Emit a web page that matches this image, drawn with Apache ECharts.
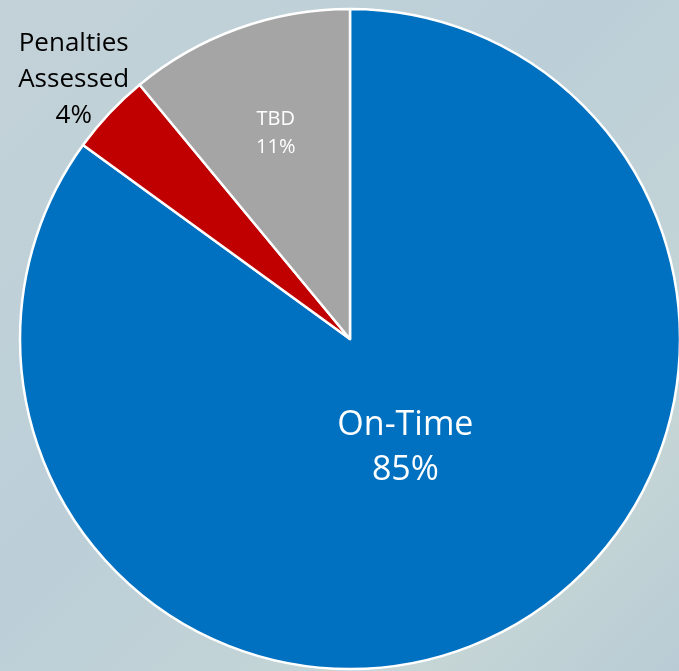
<!DOCTYPE html>
<html>
<head>
<meta charset="utf-8">
<script src="https://cdn.jsdelivr.net/npm/echarts@6/dist/echarts.min.js"></script>
<style>
  html, body { margin: 0; padding: 0; }
  #main { width: 679px; height: 671px; }
</style>
</head>
<body>
<div id="main"></div>
<script>
// slice order runs clockwise from 12 o'clock
var categories = ['On-Time', 'Penalties Assessed', 'TBD'];
var shares = [85, 4, 11];

var sliceColors = ['#0070C0', '#C00000', '#A5A5A5'];
var center = [350, 339];

var myChart = echarts.init(document.getElementById('main'));

function pieData() {
    return categories.map(function (name, i) {
        return { name: name, value: shares[i] };
    });
}

// transparent copy of the pie, only used to put one label at a given radius
function labelRing(idx, radius, style) {
    return {
        type: 'pie',
        silent: true,
        center: center,
        radius: radius,
        startAngle: 90,
        clockwise: true,
        z: 5,
        itemStyle: { color: 'transparent', borderWidth: 0 },
        labelLine: { show: false },
        emphasis: { disabled: true },
        label: { show: false },
        data: pieData().map(function (d, i) {
            if (i === idx) {
                d.label = Object.assign({
                    show: true,
                    position: 'inside',
                    fontFamily: 'Open Sans',
                    formatter: function (p) {
                        return p.name.replace(' ', '\n') + '\n' + p.value + '%';
                    }
                }, style);
            }
            return d;
        })
    };
}

var option = {
    animation: false,
    backgroundColor: new echarts.graphic.LinearGradient(0, 0, 1, 1, [
        { offset: 0, color: '#c3d2d8' },
        { offset: 0.45, color: '#bccfd8' },
        { offset: 0.8, color: '#c6d6d6' },
        { offset: 1, color: '#b9ccd5' }
    ]),
    series: [
        {
            type: 'pie',
            center: center,
            radius: 330,
            startAngle: 90,
            clockwise: true,
            label: { show: false },
            labelLine: { show: false },
            itemStyle: {
                borderColor: '#ffffff',
                borderWidth: 2.5
            },
            data: pieData().map(function (d, i) {
                d.itemStyle = { color: sliceColors[i] };
                return d;
            })
        },
        labelRing(0, [0, 238], { color: '#ffffff', fontSize: 34, lineHeight: 45 }),
        labelRing(2, [110, 322], { color: '#ffffff', fontSize: 20, lineHeight: 28 }),
        labelRing(1, [330, 422], { color: '#000000', fontSize: 26, lineHeight: 36 })
    ]
};

myChart.setOption(option);
</script>
</body>
</html>
